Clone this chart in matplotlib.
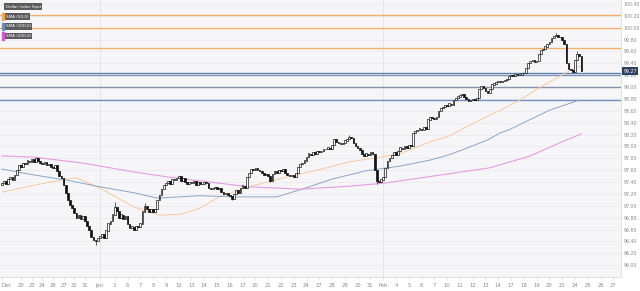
import numpy as np
import matplotlib
matplotlib.use("Agg")
import matplotlib.pyplot as plt
from matplotlib.patches import Rectangle

# trading days shown on the axis and 4h closes for each of them
day_labels = ["Dec", "20", "23", "24", "26", "27", "30", "31",
              "Jan", "3", "6", "7", "8", "9", "10", "13", "14", "15", "16", "17",
              "20", "21", "22", "23", "24", "27", "28", "29", "30", "31",
              "Feb", "4", "5", "6", "7", "10", "11", "12", "13", "14",
              "17", "18", "19", "20", "21", "24"]
future_labels = ["25", "26", "27"]

closes = [
    [97.38, 97.42, 97.36, 97.45, 97.48, 97.44, 97.52, 97.60, 97.68],   # Dec 19
    [97.66, 97.72, 97.70, 97.76, 97.74],
    [97.78, 97.74, 97.80, 97.76, 97.72],
    [97.70, 97.73, 97.68, 97.70, 97.66],
    [97.64, 97.68, 97.58, 97.50, 97.47],
    [97.35, 97.22, 97.10, 97.02, 96.96],
    [96.88, 96.80, 96.84, 96.78, 96.82],
    [96.74, 96.66, 96.60, 96.48, 96.42, 96.40, 96.45],
    [96.48, 96.52, 96.46, 96.58, 96.70, 96.74, 96.85],                 # Jan 2
    [96.98, 96.92, 96.80, 96.85, 96.78, 96.82],
    [96.70, 96.62, 96.65, 96.60, 96.66, 96.64],
    [96.70, 96.90, 97.00, 96.95, 96.90, 96.94],
    [96.90, 96.95, 97.10, 97.18, 97.28, 97.35],
    [97.38, 97.42, 97.36, 97.45, 97.44, 97.46],
    [97.50, 97.42, 97.46, 97.40, 97.36, 97.40],
    [97.38, 97.42, 97.35, 97.40, 97.37, 97.36],
    [97.40, 97.38, 97.30, 97.28, 97.30, 97.32],
    [97.28, 97.30, 97.24, 97.20, 97.22, 97.18],
    [97.16, 97.12, 97.20, 97.26, 97.22, 97.30],
    [97.34, 97.30, 97.48, 97.55, 97.62, 97.60],
    [97.64, 97.60, 97.58, 97.56, 97.52, 97.54],
    [97.50, 97.42, 97.54, 97.58, 97.56, 97.60],
    [97.58, 97.62, 97.55, 97.52, 97.50, 97.52],
    [97.48, 97.55, 97.65, 97.70, 97.72, 97.76],
    [97.82, 97.88, 97.86, 97.90, 97.88, 97.92],
    [97.90, 97.92, 97.96, 97.95, 97.98, 97.96],
    [98.02, 98.12, 98.08, 98.05, 98.04, 98.06],
    [98.10, 98.12, 98.16, 98.14, 98.06, 98.00],
    [97.98, 97.94, 97.88, 97.84, 97.88, 97.86],
    [97.90, 97.88, 97.60, 97.42, 97.40, 97.44],
    [97.48, 97.64, 97.75, 97.80, 97.85, 97.90],                        # Feb 3
    [97.86, 97.92, 97.98, 97.96, 98.00, 97.98],
    [98.02, 98.00, 98.22, 98.26, 98.28, 98.30],
    [98.28, 98.32, 98.30, 98.45, 98.50, 98.48],
    [98.46, 98.50, 98.60, 98.64, 98.66, 98.70],
    [98.68, 98.72, 98.70, 98.78, 98.82, 98.84],
    [98.86, 98.88, 98.84, 98.80, 98.76, 98.78],
    [98.80, 98.78, 98.82, 98.96, 99.02, 98.98],
    [98.94, 98.90, 98.96, 99.04, 99.06, 99.08],
    [99.10, 99.08, 99.10, 99.12, 99.14, 99.18],
    [99.20, 99.18, 99.22, 99.20, 99.21, 99.23],
    [99.24, 99.32, 99.40, 99.44, 99.46, 99.42],
    [99.44, 99.55, 99.62, 99.64, 99.68, 99.72],
    [99.76, 99.82, 99.86, 99.88, 99.85, 99.84],
    [99.80, 99.72, 99.40, 99.30, 99.28, 99.26],
    [99.45, 99.56, 99.52, 99.27],                                      # Feb 24
]
first_open = 97.35

# notable wick extremes (candle index -> price)
wick_highs = {53: 97.07, 67: 97.05, 163: 98.19, 260: 99.91, 270: 99.60}
wick_lows = {44: 96.34, 108: 97.10, 126: 97.40, 176: 97.36, 180: 97.62}

# moving averages (candle index, price)
sma50_x = [0, 13, 27, 35, 46, 62, 74, 84, 93, 102, 116, 132, 148, 163, 176,
           187, 202, 209, 224, 234, 243, 252, 265, 272]
sma50_y = [97.23, 97.33, 97.43, 97.47, 97.30, 96.98, 96.84, 96.86, 96.96, 97.15,
           97.32, 97.47, 97.60, 97.74, 97.81, 97.88, 98.09, 98.16, 98.44, 98.61,
           98.78, 98.98, 99.25, 99.36]
sma100_x = [0, 15, 31, 46, 62, 73, 93, 108, 129, 140, 155, 171, 187, 201, 210,
            216, 228, 234, 238, 257, 271]
sma100_y = [97.62, 97.52, 97.43, 97.32, 97.22, 97.13, 97.17, 97.15, 97.15, 97.27,
            97.45, 97.59, 97.67, 97.77, 97.86, 97.94, 98.11, 98.23, 98.28, 98.61, 98.78]
sma200_x = [0, 15, 38, 62, 79, 93, 116, 140, 163, 179, 187, 229, 248, 265, 272]
sma200_y = [97.84, 97.82, 97.72, 97.57, 97.48, 97.42, 97.32, 97.28, 97.33, 97.38,
            97.42, 97.64, 97.84, 98.11, 98.21]

orange_levels = [100.21, 100.00, 99.66]
blue_levels = [99.24, 99.20, 99.00, 98.78]

# flatten candles
c = np.array([v for row in closes for v in row])
o = np.concatenate([[first_open], c[:-1]])
x = np.arange(len(c))
hi = np.maximum(o, c)
lo = np.minimum(o, c)
for k, v in wick_highs.items():
    hi[k] = v
for k, v in wick_lows.items():
    lo[k] = v

day_start = np.concatenate([[0], np.cumsum([len(r) for r in closes])[:-1]])
tick_pos = list(day_start) + [day_start[-1] + 6 * (i + 1) for i in range(len(future_labels))]
tick_lab = day_labels + future_labels

fig = plt.figure(figsize=(6.4, 2.91), dpi=100)
ax = fig.add_axes([0, 0.048, 0.971, 0.952])
ax.set_facecolor("#f6f6f8")

yticks = np.round(np.arange(96.0, 100.41, 0.2), 2)
for yt in yticks:
    ax.axhline(yt, color="#ebebef", lw=0.6, zorder=0)
for lab in ("Jan", "Feb"):
    ax.axvline(tick_pos[tick_lab.index(lab)], color="#e2e2e6", lw=0.6, zorder=0)

for lvl in orange_levels:
    ax.axhline(lvl, color="#f2b06a", lw=1.0, zorder=1)
blue_cols = ["#5f82ad", "#7e97b8", "#8693aa", "#6e90c2"]
for lvl, col in zip(blue_levels, blue_cols):
    ax.axhline(lvl, color=col, lw=1.0, zorder=1)

ax.plot(sma50_x, sma50_y, color="#f7c9a0", lw=0.7, zorder=2)
ax.plot(sma100_x, sma100_y, color="#8aa4c8", lw=0.7, zorder=2)
ax.plot(sma200_x, sma200_y, color="#e79be3", lw=0.8, zorder=2)

up = c >= o
ax.vlines(x, lo, hi, color="#222222", lw=0.5, zorder=3)
ax.bar(x[up], (c - o)[up] + 0.004, bottom=o[up], width=0.8,
       color="white", edgecolor="#1a1a1a", linewidth=0.5, zorder=4)
ax.bar(x[~up], (c - o)[~up], bottom=o[~up], width=0.8,
       color="#111111", edgecolor="#111111", linewidth=0.5, zorder=4)

ax.set_xlim(-0.84, 290.8)
ax.set_ylim(95.80, 100.467)
ax.set_xticks(tick_pos)
ax.set_xticklabels(tick_lab)
ax.get_xticklabels()[0].set_ha("left")
ax.yaxis.tick_right()
ax.set_yticks(yticks)
ax.set_yticklabels(["%.2f" % v for v in yticks])
ax.tick_params(axis="y", length=0, pad=1.5, labelsize=3.4, labelcolor="#8a8a8a")
ax.tick_params(axis="x", length=2, width=0.4, color="#cfcfcf", pad=2,
               labelsize=3.8, labelcolor="#8a8a8a")
for s in ("top", "left"):
    ax.spines[s].set_visible(False)
for s in ("right", "bottom"):
    ax.spines[s].set_color("#dcdcdc")
    ax.spines[s].set_linewidth(0.6)

# last price box
ax.annotate("%.2f" % c[-1], xy=(1.003, c[-1]), xycoords=("axes fraction", "data"),
            fontsize=3.4, color="white", va="center", ha="left",
            bbox=dict(boxstyle="square,pad=0.25", fc="#2d3f5e", ec="none"),
            annotation_clip=False)

# legend boxes
legend_items = ["Dollar Index Spot", "SMA (50,0)", "SMA (100,0)", "SMA (200,0)"]
legend_cols = [None, "#f2a94f", "#6d8fc0", "#d35ad0"]
for i, (txt, col) in enumerate(zip(legend_items, legend_cols)):
    yy = 0.975 - i * 0.035
    ax.text(0.009, yy, txt, transform=ax.transAxes, fontsize=3.0, color="white",
            va="center", ha="left", zorder=6,
            bbox=dict(boxstyle="square,pad=0.35", fc="#5b5b5e", ec="none"))
    if col:
        ax.add_patch(Rectangle((0.003, yy - 0.013), 0.004, 0.026, transform=ax.transAxes,
                               color=col, zorder=7, clip_on=False))

fig.savefig("out.png", dpi=100, facecolor="white")
